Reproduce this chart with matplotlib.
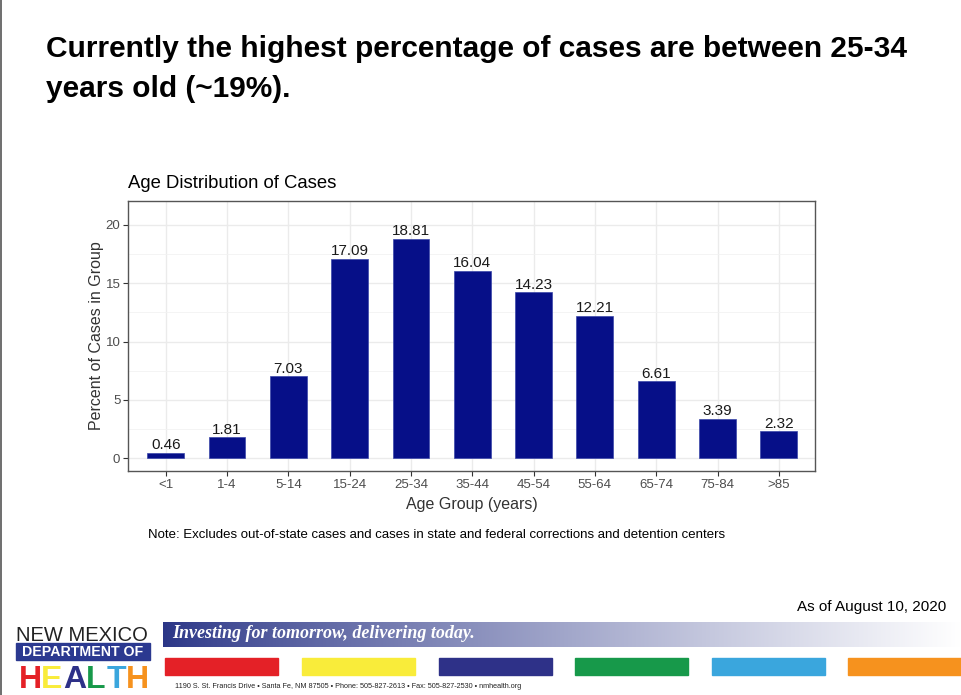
import matplotlib
matplotlib.use("Agg")
import matplotlib.pyplot as plt
import matplotlib.patches as mpatches
import matplotlib.lines as mlines
import numpy as np

W, H = 961, 695

# data
age_groups = ['<1', '1-4', '5-14', '15-24', '25-34', '35-44',
              '45-54', '55-64', '65-74', '75-84', '>85']
pct_cases = [0.46, 1.81, 7.03, 17.09, 18.81, 16.04,
             14.23, 12.21, 6.61, 3.39, 2.32]
y_ticks = [0, 5, 10, 15, 20]

heading = ["Currently the highest percentage of cases are between 25-34",
           "years old (~19%)."]
chart_title = "Age Distribution of Cases"
note = ("Note: Excludes out-of-state cases and cases in state and federal "
        "corrections and detention centers")
as_of = "As of August 10, 2020"
slogan = "Investing for tomorrow, delivering today."
address = ("1190 S. St. Francis Drive \u2022 Santa Fe, NM 87505 \u2022 "
           "Phone: 505-827-2613 \u2022 Fax: 505-827-2530 \u2022 nmhealth.org")
stripe_colors = ['#E42127', '#F9EC3A', '#2E3188', '#17994A', '#3AA6DD', '#F6921E']
health_letters = ['H', 'E', 'A', 'L', 'T', 'H']

SANS = ['Liberation Sans', 'DejaVu Sans']
BAR_COLOR = '#060F88'


def fx(x):
    return x / W


def fy(y):
    return 1 - y / H


fig = plt.figure(figsize=(W / 100, H / 100), dpi=100)
fig.patch.set_facecolor('white')

# slide heading
fig.text(fx(46), fy(57), heading[0], family=SANS, weight='bold',
         fontsize=21.5, va='baseline', ha='left')
fig.text(fx(46), fy(97), heading[1], family=SANS, weight='bold',
         fontsize=21.5, va='baseline', ha='left')

# chart panel
ax = fig.add_axes([fx(128), fy(471), fx(815) - fx(128), fy(200.7) - fy(471)])
x = np.arange(1, len(age_groups) + 1)
ax.bar(x, pct_cases, width=0.6, color=BAR_COLOR, edgecolor='#3A46A8',
       linewidth=0.5, zorder=3)
for xi, v in zip(x, pct_cases):
    ax.text(xi, v + 0.05, f"{v:.2f}", family=SANS, fontsize=11,
            ha='center', va='bottom', color='#1A1A1A', zorder=4)

ax.set_xlim(0.385, 11.59)
ax.set_ylim(-1.09, 22.07)
ax.set_xticks(x)
ax.set_xticklabels(age_groups)
ax.set_yticks(y_ticks)
ax.set_yticks([2.5, 7.5, 12.5, 17.5], minor=True)
ax.tick_params(axis='both', which='major', length=3.5, width=0.8,
               color='#333333', labelcolor='#4D4D4D', labelsize=9.5, pad=2)
ax.tick_params(axis='both', which='minor', length=0)
for lab in ax.get_xticklabels() + ax.get_yticklabels():
    lab.set_family(SANS)
ax.grid(True, which='major', color='#EBEBEB', linewidth=1.0, zorder=0)
ax.grid(True, which='minor', axis='y', color='#F2F2F2', linewidth=0.6, zorder=0)
for sp in ax.spines.values():
    sp.set_color('#555555')
    sp.set_linewidth(1.0)

fig.text(fx(128), fy(188), chart_title, family=SANS, fontsize=13.3,
         ha='left', va='baseline')
fig.text(fx(96.5), fy(336), "Percent of Cases in Group", family=SANS,
         fontsize=11.5, rotation=90, ha='center', va='center', color='#333333')
fig.text(fx(471.5), fy(505), "Age Group (years)", family=SANS,
         fontsize=11.5, ha='center', va='center', color='#333333')

fig.text(fx(148), fy(535), note, family=SANS, fontsize=9.5,
         ha='left', va='center')
fig.text(fx(946), fy(607), as_of, family=SANS, fontsize=11,
         ha='right', va='center')

# footer banner with gradient
bax = fig.add_axes([fx(163), fy(647), fx(961) - fx(163), fy(621.5) - fy(647)])
left_rgb = np.array([0x2B, 0x36, 0x87]) / 255.0
t = np.linspace(0, 1, 400) ** 0.85
grad = left_rgb[None, :] * (1 - t[:, None]) + np.ones(3)[None, :] * t[:, None]
bax.imshow(grad[None, :, :], aspect='auto', extent=[0, 1, 0, 1])
bax.set_axis_off()
fig.text(fx(172), fy(634), slogan, family=['Liberation Serif', 'DejaVu Serif'],
         weight='bold', style='italic', fontsize=13, color='white',
         ha='left', va='center')

# colour stripes
stripe_x = [165, 302, 439, 575, 712, 848]
for sx, col in zip(stripe_x, stripe_colors):
    fig.patches.append(mpatches.Rectangle((fx(sx), fy(675)), fx(113), 17 / H,
                                          transform=fig.transFigure,
                                          color=col, zorder=1))
fig.text(fx(175), fy(687), address, family=SANS, fontsize=5.2,
         ha='left', va='center', color='#222222')

# logo
fig.text(fx(82), fy(641), "NEW MEXICO", family=SANS, fontsize=14.5,
         ha='center', va='baseline', color='#222222')
fig.patches.append(mpatches.Rectangle((fx(16), fy(660)), fx(134), 17 / H,
                                      transform=fig.transFigure,
                                      color='#2B3990', zorder=1))
fig.text(fx(83), fy(652), "DEPARTMENT OF", family=SANS, weight='bold',
         fontsize=10.2, ha='center', va='center', color='white')
letter_x = [30, 52, 75, 96, 116, 137]
for lx, letter, col in zip(letter_x, health_letters, stripe_colors):
    fig.text(fx(lx), fy(688), letter, family=SANS, weight='bold',
             fontsize=23, ha='center', va='baseline', color=col)

# slide left border
fig.lines.append(mlines.Line2D([fx(0.8), fx(0.8)], [0, 1],
                               transform=fig.transFigure,
                               color='#555555', linewidth=1.2))

fig.savefig('out.png', dpi=100)
